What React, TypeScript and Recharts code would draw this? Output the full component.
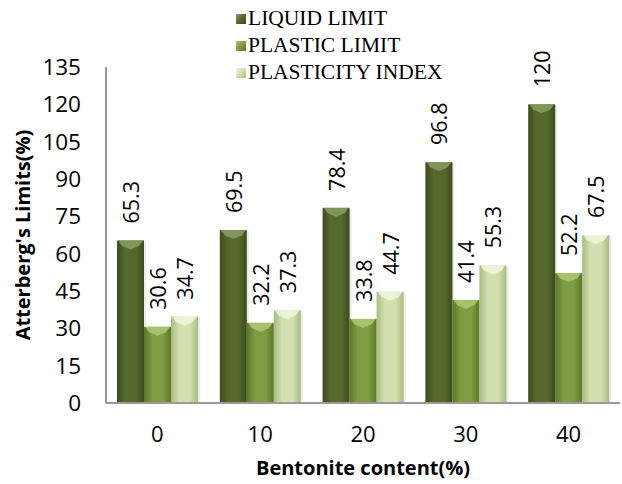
import React from 'react';
import { BarChart, Bar, XAxis, YAxis, Legend, LabelList } from 'recharts';

const categories = ['0', '10', '20', '30', '40'];
const liquidLimit = [65.3, 69.5, 78.4, 96.8, 120];
const plasticLimit = [30.6, 32.2, 33.8, 41.4, 52.2];
const plasticityIndex = [34.7, 37.3, 44.7, 55.3, 67.5];
const yTicks = [0, 15, 30, 45, 60, 75, 90, 105, 120, 135];
const seriesNames = ['LIQUID LIMIT', 'PLASTIC LIMIT', 'PLASTICITY INDEX'];
const seriesKeys = ['liquid', 'plastic', 'pi'];

const data = categories.map((c, i) => ({
  cat: c,
  liquid: liquidLimit[i],
  plastic: plasticLimit[i],
  pi: plasticityIndex[i],
}));

const palette = [
  { edge: '#3c4b1d', mid: '#55692d', bevel: '#8a9c62' },
  { edge: '#5d7829', mid: '#7e9c41', bevel: '#b0c778' },
  { edge: '#a8bc7f', mid: '#d2e0b0', bevel: '#f0f6e0' },
];

const SANS = '"Open Sans", Lato, sans-serif';

const makeShape = (idx: number) => (props: any) => {
  const { x, y, width, height } = props;
  if (!height || height <= 0) return null;
  const w = width;
  const b = Math.min(9, height);
  return (
    <g>
      <rect x={x + 2} y={y + 1} width={w} height={height - 1} fill="#000" opacity={0.08} />
      <rect x={x} y={y} width={w} height={height} fill={`url(#grad${idx})`} />
      <polygon
        points={`${x + 1},${y} ${x + w - 1},${y} ${x + w - 5},${y + b * 0.6} ${x + w / 2},${y + b} ${x + 5},${y + b * 0.6}`}
        fill={palette[idx].bevel}
        opacity={0.85}
      />
    </g>
  );
};

const renderValueLabel = (props: any) => {
  const { x, y, width, value } = props;
  const cx = x + width / 2;
  const ty = y - 17;
  return (
    <text
      x={cx}
      y={ty}
      transform={`rotate(-90 ${cx} ${ty})`}
      textAnchor="start"
      dominantBaseline="central"
      fontFamily={SANS}
      fontSize={21.5}
      fill="#000"
    >
      {value}
    </text>
  );
};

const renderLegend = () => (
  <div style={{ fontFamily: '"Liberation Serif", "Times New Roman", serif', fontSize: 21.5, color: '#000', lineHeight: '27px' }}>
    {seriesNames.map((n, i) => (
      <div key={n} style={{ display: 'flex', alignItems: 'center', whiteSpace: 'nowrap' }}>
        <span
          style={{
            display: 'inline-block',
            width: 10,
            height: 10,
            marginRight: 2,
            background: `linear-gradient(135deg, ${palette[i].bevel}, ${palette[i].mid} 50%, ${palette[i].edge})`,
          }}
        />
        <span>{n}</span>
      </div>
    ))}
  </div>
);

const YLabel = (props: any) => {
  const vb = props.viewBox;
  const cx = vb.x + 22;
  const cy = vb.y + vb.height / 2;
  return (
    <text
      x={cx}
      y={cy}
      transform={`rotate(-90 ${cx} ${cy})`}
      textAnchor="middle"
      dominantBaseline="central"
      fontFamily={SANS}
      fontWeight="bold"
      fontSize={20}
      fill="#000"
    >
      Atterberg's Limits(%)
    </text>
  );
};

const XLabel = (props: any) => {
  const vb = props.viewBox;
  const cx = vb.x + vb.width / 2;
  return (
    <text
      x={cx}
      y={vb.y + 64}
      textAnchor="middle"
      dominantBaseline="central"
      fontFamily={SANS}
      fontWeight="bold"
      fontSize={20}
      fill="#000"
    >
      Bentonite content(%)
    </text>
  );
};

export default function App() {
  return (
    <div style={{ position: 'absolute', left: 0, top: 0, width: 622, height: 484, background: '#fff' }}>
      <BarChart
        width={622}
        height={484}
        data={data}
        margin={{ top: 67, right: 2, bottom: 0, left: 0 }}
        barGap={0}
        barSize={27}
      >
        <defs>
          {palette.map((p, i) => (
            <linearGradient key={i} id={`grad${i}`} x1="0" y1="0" x2="1" y2="0">
              <stop offset="0%" stopColor={p.edge} />
              <stop offset="30%" stopColor={p.mid} />
              <stop offset="70%" stopColor={p.mid} />
              <stop offset="100%" stopColor={p.edge} />
            </linearGradient>
          ))}
        </defs>
        <XAxis
          dataKey="cat"
          height={81}
          tickLine={false}
          tickSize={0}
          tickMargin={23}
          axisLine={{ stroke: '#9a9a9a', strokeWidth: 2 }}
          tick={{ fontFamily: SANS, fontSize: 22, fill: '#000' }}
          label={<XLabel />}
        />
        <YAxis
          width={106}
          domain={[0, 135]}
          ticks={yTicks}
          interval={0}
          tickLine={false}
          tickSize={0}
          tickMargin={25}
          axisLine={{ stroke: '#9a9a9a', strokeWidth: 2 }}
          tick={{ fontFamily: SANS, fontSize: 22.5, fill: '#000' }}
          label={<YLabel />}
        />
        <Legend
          layout="vertical"
          align="center"
          verticalAlign="middle"
          content={renderLegend}
          wrapperStyle={{ top: 5, left: 236, width: 260, height: 85 }}
        />
        {seriesKeys.map((k, i) => (
          <Bar key={k} dataKey={k} name={seriesNames[i]} isAnimationActive={false} shape={makeShape(i)}>
            <LabelList dataKey={k} content={renderValueLabel} />
          </Bar>
        ))}
      </BarChart>
    </div>
  );
}
